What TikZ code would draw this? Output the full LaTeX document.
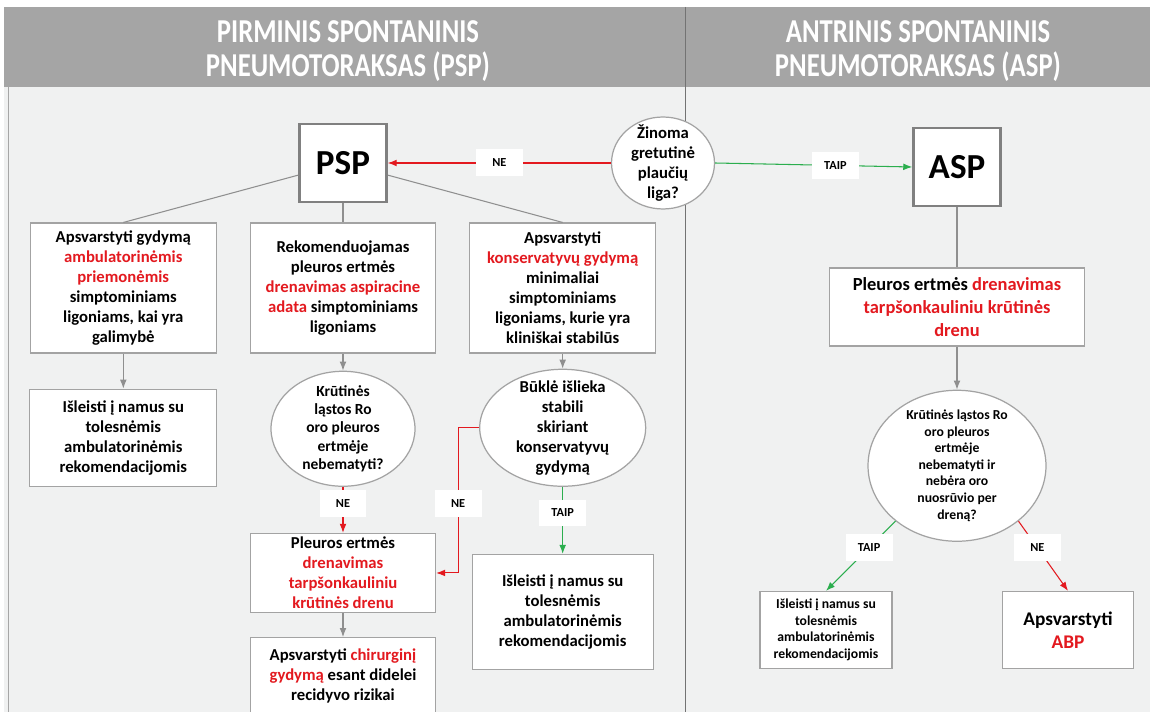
\documentclass[tikz,border=0pt]{standalone}
\usepackage{fontspec}
\setmainfont{Carlito}
\newfontfamily\headfont[FakeStretch=0.8]{Carlito}
\usepackage{xcolor}
\usepackage{tikz}
\usetikzlibrary{positioning}
\usetikzlibrary{arrows.meta}
\usetikzlibrary{shapes}

\definecolor{psred}{HTML}{E3191F}
\definecolor{psgreen}{HTML}{2BAE4E}
\definecolor{psgrey}{HTML}{8F8F8F}
\definecolor{boxgrey}{HTML}{A3A3A3}
\definecolor{headgrey}{HTML}{A5A5A5}
\definecolor{panelgrey}{HTML}{F0F1F1}
\newcommand{\redtxt}[1]{\textcolor{psred}{#1}}

\begin{document}
\begin{tikzpicture}[x=0.02cm,y=-0.02cm,
      font=\bfseries\fontsize{9.5}{11.4}\selectfont,
      box style/.style={rectangle,draw=boxgrey,fill=white,line width=0.7pt,
        align=center,inner sep=2pt},
      big style/.style={rectangle,draw=gray,fill=white,line width=1.4pt,
        minimum width=1.74cm,minimum height=1.57cm,
        font=\bfseries\fontsize{20}{24}\selectfont},
      dec style/.style={ellipse,draw=boxgrey,fill=white,line width=0.7pt,
        align=center,inner sep=-4pt},
      lbl style/.style={fill=white,text=black,minimum width=0.94cm,minimum height=0.54cm,
        inner sep=0pt,font=\bfseries\fontsize{7}{8}\selectfont},
      head style/.style={text=white,align=center,
        font=\headfont\bfseries\fontsize{19}{19.8}\selectfont},
      link/.style={psgrey,line width=0.6pt},
      grey arr/.style={-{Latex[scale=0.9]},psgrey,line width=0.6pt},
      red arr/.style={-{Latex[scale=0.9]},psred,line width=0.6pt},
      green arr/.style={-{Latex[scale=0.9]},psgreen,line width=0.6pt}
      ]
      \useasboundingbox (0,0) rectangle (1150,712);
      \fill[white] (0,0) rectangle (1150,712);
      \fill[panelgrey] (4,7) rectangle (1150,712);
      \fill[headgrey] (4,7) rectangle (1150,87);
      \draw[gray!70,line width=0.5pt] (8,87) -- (8,712);
      \draw[gray!90!black,line width=0.5pt] (685,7) -- (685,712);

      \node[head style] (headl) at (348,51) {PIRMINIS SPONTANINIS\\PNEUMOTORAKSAS (PSP)};
      \node[head style] (headr) at (918,51) {ANTRINIS SPONTANINIS\\PNEUMOTORAKSAS (ASP)};

      \node[big style] (psp) at (343,163) {PSP};
      \node[dec style,minimum width=2.06cm,minimum height=1.84cm] (known)
        at (663,163) {Žinoma\\gretutinė\\plaučių\\liga?};
      \node[big style] (asp) at (957,167) {ASP};

      \node[box style,minimum width=3.7cm,minimum height=2.6cm,below=0.38cm of psp]
        (m1) {Rekomenduojamas\\pleuros ertmės\\\redtxt{drenavimas aspiracine}\\
        \redtxt{adata} simptominiams\\ligoniams};
      \node[box style,minimum width=3.72cm,minimum height=2.6cm,left=0.66cm of m1]
        (l1) {Apsvarstyti gydymą\\\redtxt{ambulatorinėmis}\\\redtxt{priemonėmis}\\
        simptominiams\\ligoniams, kai yra\\galimybė};
      \node[box style,minimum width=3.72cm,minimum height=2.6cm,right=0.66cm of m1]
        (r1) {Apsvarstyti\\\redtxt{konservatyvų gydymą}\\minimaliai\\simptominiams\\
        ligoniams, kurie yra\\kliniškai stabilūs};

      \node[box style,minimum width=3.74cm,minimum height=1.94cm,below=0.7cm of l1]
        (l2) {Išleisti į namus su\\tolesnėmis\\ambulatorinėmis\\rekomendacijomis};
      \node[dec style,minimum width=2.88cm,minimum height=2.3cm,below=0.34cm of m1,
        font=\bfseries\fontsize{8.8}{10.4}\selectfont]
        (m2) {Krūtinės\\ląstos Ro\\oro pleuros\\ertmėje\\nebematyti?};
      \node[box style,minimum width=3.7cm,minimum height=1.56cm,below=0.92cm of m2]
        (m3) {Pleuros ertmės\\\redtxt{drenavimas}\\\redtxt{tarpšonkauliniu}\\
        \redtxt{krūtinės drenu}};
      \node[box style,minimum width=3.7cm,minimum height=1.54cm,below=0.48cm of m3]
        (m4) {Apsvarstyti \redtxt{chirurginį}\\\redtxt{gydymą} esant didelei\\
        recidyvo rizikai};
      \node[dec style,minimum width=3.32cm,minimum height=2.34cm,below=0.3cm of r1]
        (r2) {Būklė išlieka\\stabili\\skiriant\\konservatyvų\\gydymą};
      \node[box style,minimum width=3.62cm,minimum height=2.3cm,below=1.34cm of r2]
        (r3) {Išleisti į namus su\\tolesnėmis\\ambulatorinėmis\\rekomendacijomis};

      \node[box style,minimum width=5.1cm,minimum height=1.56cm,below=1.2cm of asp,
        font=\bfseries\fontsize{10.5}{13}\selectfont]
        (a1) {Pleuros ertmės \redtxt{drenavimas}\\\redtxt{tarpšonkauliniu krūtinės}\\
        \redtxt{drenu}};
      \node[dec style,minimum width=3.56cm,minimum height=3.02cm,below=0.86cm of a1,
        font=\bfseries\fontsize{7.8}{9.4}\selectfont]
        (a2) {Krūtinės ląstos Ro\\oro pleuros\\ertmėje\\nebematyti ir\\nebėra oro\\
        nuosrūvio per\\dreną?};
      \node[box style,minimum width=2.64cm,minimum height=1.54cm,
        font=\bfseries\fontsize{7.8}{9.4}\selectfont]
        (a3) at (826,630) {Išleisti į namus su\\tolesnėmis\\ambulatorinėmis\\
        rekomendacijomis};
      \node[box style,minimum width=2.62cm,minimum height=1.54cm,
        font=\bfseries\fontsize{11}{13}\selectfont]
        (a4) at (1068,630) {Apsvarstyti\\\redtxt{ABP}};


      \draw[red arr] (known.west) -- node[lbl style,pos=0.5] (ne1) {NE} (psp.east);
      \draw[green arr] (known.east) -- node[lbl style,pos=0.61] (taip1) {TAIP} (asp.west);

      \draw[link] (psp) -- (l1.north);
      \draw[link] (psp) -- (m1.north);
      \draw[link] (psp) -- (r1.north);

      \draw[grey arr] (l1) -- (l2);
      \draw[grey arr] (m1) -- (m2);
      \draw[grey arr] (r1) -- (r2);
      \draw[red arr] (m2) -- node[lbl style,pos=0.37] (ne2) {NE} (m3);
      \draw[red arr] (r2.west) -- ++(-21,0) |- node[lbl style,pos=0.26] (ne3) {NE} (m3.east);
      \draw[green arr] (r2) -- node[lbl style,pos=0.39] (taip2) {TAIP} (r3);
      \draw[grey arr] (m3) -- (m4);

      \draw[link] (asp) -- (a1);
      \draw[grey arr] (a1) -- (a2);
      \draw[green arr] (a2.-138) -- node[lbl style,pos=0.38] (taip3) {TAIP} (a3.north);
      \draw[red arr] (a2.-42) -- node[lbl style,pos=0.38] (ne4) {NE} (a4.north);

    \end{tikzpicture}
\end{document}
